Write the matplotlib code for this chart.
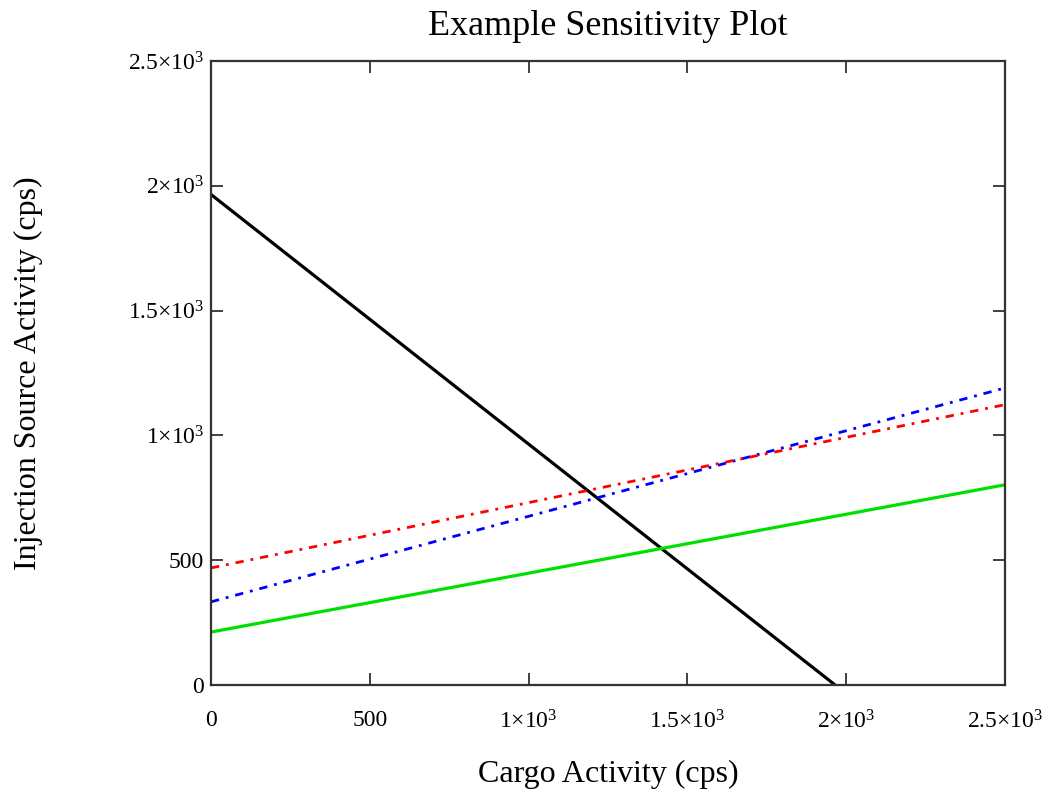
import numpy as np
import matplotlib
matplotlib.use("Agg")
import matplotlib.pyplot as plt

plt.rcParams['font.family'] = ['Liberation Serif', 'DejaVu Serif']
plt.rcParams['mathtext.fontset'] = 'custom'
plt.rcParams['mathtext.rm'] = 'Liberation Serif'
plt.rcParams['mathtext.it'] = 'Liberation Serif:italic'

# Data: line end points (x, y)
cargo_x = [0, 2500]
black_x = [0, 1965]
black_y = [1965, 0]
green_y = [212, 802]
blue_y = [333, 1190]
red_y = [469, 1123]

xticks = [0, 500, 1000, 1500, 2000, 2500]
xtick_labels = ['0', '500', r'$1{\times}10^3$', r'$1.5{\times}10^3$', r'$2{\times}10^3$', r'$2.5{\times}10^3$']
yticks = [0, 500, 1000, 1500, 2000, 2500]
ytick_labels = ['0', '500', r'$1{\times}10^3$', r'$1.5{\times}10^3$', r'$2{\times}10^3$', r'$2.5{\times}10^3$']

fig = plt.figure(figsize=(10.52, 7.95), dpi=100)
ax = fig.add_axes([0.2006, 0.1384, 0.7547, 0.7849])

ax.plot(black_x, black_y, color='black', lw=2.3, solid_capstyle='butt')
ax.plot(cargo_x, green_y, color='#00e000', lw=2.3)
ax.plot(cargo_x, blue_y, color='blue', lw=2.0, linestyle=(0, (3, 2.5, 1, 2.5)))
ax.plot(cargo_x, red_y, color='red', lw=2.0, linestyle=(0, (3, 2.5, 1, 2.5)))

ax.set_xlim(0, 2500)
ax.set_ylim(0, 2500)
ax.set_xticks(xticks)
ax.set_xticklabels(xtick_labels)
ax.set_yticks(yticks)
ax.set_yticklabels(ytick_labels)
ax.tick_params(direction='in', length=8.6, width=1.3, top=True, right=True,
               labelsize=17, color='#333333')
ax.tick_params(axis='x', pad=18)
ax.tick_params(axis='y', pad=5)
for s in ax.spines.values():
    s.set_linewidth(1.6)
    s.set_color('#333333')

ax.set_title('Example Sensitivity Plot', fontsize=26, pad=19)
ax.set_xlabel('Cargo Activity (cps)', fontsize=23, va='center')
ax.xaxis.set_label_coords(0.5, -0.144)
ax.set_ylabel('Injection Source Activity (cps)', fontsize=23, va='center')
ax.yaxis.set_label_coords(-0.2305, 0.5)

fig.savefig('out.png', dpi=100)
